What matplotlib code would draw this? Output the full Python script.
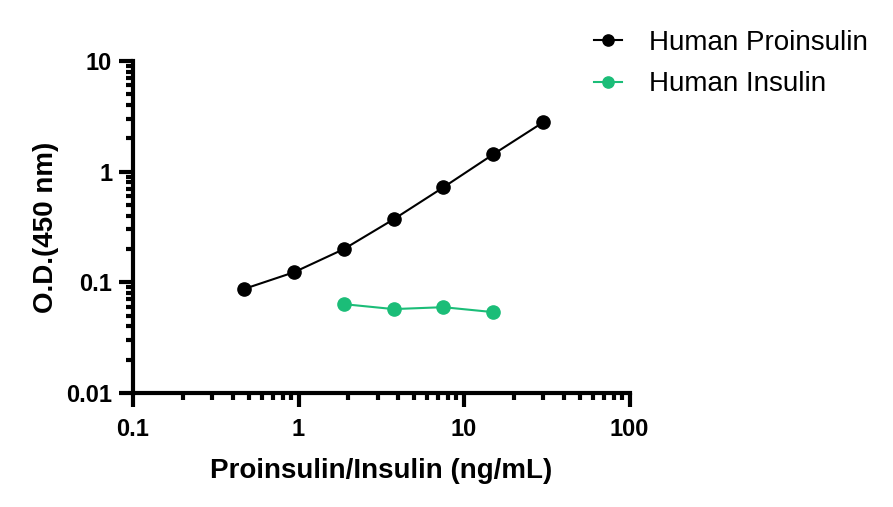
import numpy as np
import matplotlib.pyplot as plt
from matplotlib.ticker import LogLocator, FixedLocator, FixedFormatter, NullFormatter

plt.rcParams['font.family'] = ['Liberation Sans', 'DejaVu Sans']

# Human Proinsulin standard curve
pro_conc = [0.469, 0.938, 1.875, 3.75, 7.5, 15, 30]
pro_od = [0.087, 0.123, 0.199, 0.37, 0.72, 1.43, 2.78]

# Human Insulin (cross-reactivity)
ins_conc = [1.875, 3.75, 7.5, 15]
ins_od = [0.0634, 0.0572, 0.0595, 0.0537]

x_ticks = [0.1, 1, 10, 100]
x_labels = ['0.1', '1', '10', '100']
y_ticks = [0.01, 0.1, 1, 10]
y_labels = ['0.01', '0.1', '1', '10']

green = '#1BBD78'

fig = plt.figure(figsize=(8.93, 5.07), dpi=100)
ax = fig.add_axes([0.149, 0.225, 0.556, 0.655])

l1, = ax.plot(pro_conc, pro_od, color='black', lw=1.5, marker='o', ms=9.5,
              label='Human Proinsulin', clip_on=False)
l2, = ax.plot(ins_conc, ins_od, color=green, lw=1.5, marker='o', ms=9.5,
              label='Human Insulin', clip_on=False)

ax.set_xscale('log')
ax.set_yscale('log')
ax.set_xlim(0.1, 100)
ax.set_ylim(0.01, 10)

ax.xaxis.set_major_locator(FixedLocator(x_ticks))
ax.xaxis.set_major_formatter(FixedFormatter(x_labels))
ax.yaxis.set_major_locator(FixedLocator(y_ticks))
ax.yaxis.set_major_formatter(FixedFormatter(y_labels))
ax.xaxis.set_minor_locator(LogLocator(base=10, subs=np.arange(2, 10)))
ax.yaxis.set_minor_locator(LogLocator(base=10, subs=np.arange(2, 10)))
ax.xaxis.set_minor_formatter(NullFormatter())
ax.yaxis.set_minor_formatter(NullFormatter())

for s in ['top', 'right']:
    ax.spines[s].set_visible(False)
for s in ['left', 'bottom']:
    ax.spines[s].set_linewidth(3)

ax.tick_params(which='major', length=10, width=3, labelsize=17)
ax.tick_params(axis='x', which='major', pad=8)
ax.tick_params(axis='y', which='major', pad=5)
ax.tick_params(which='minor', length=5, width=3)
for lab in ax.get_xticklabels() + ax.get_yticklabels():
    lab.set_fontweight('bold')

ax.set_xlabel('Proinsulin/Insulin (ng/mL)', fontsize=20, fontweight='bold', labelpad=12)
ax.set_ylabel('O.D.(450 nm)', fontsize=20, fontweight='bold', labelpad=5)

fig.legend(handles=[l1, l2], loc='upper left', bbox_to_anchor=(0.637, 0.99),
           frameon=False, fontsize=20, handlelength=1.0, handletextpad=1.0,
           labelspacing=0.55, markerscale=0.85)

fig.savefig('out.png', dpi=100)
